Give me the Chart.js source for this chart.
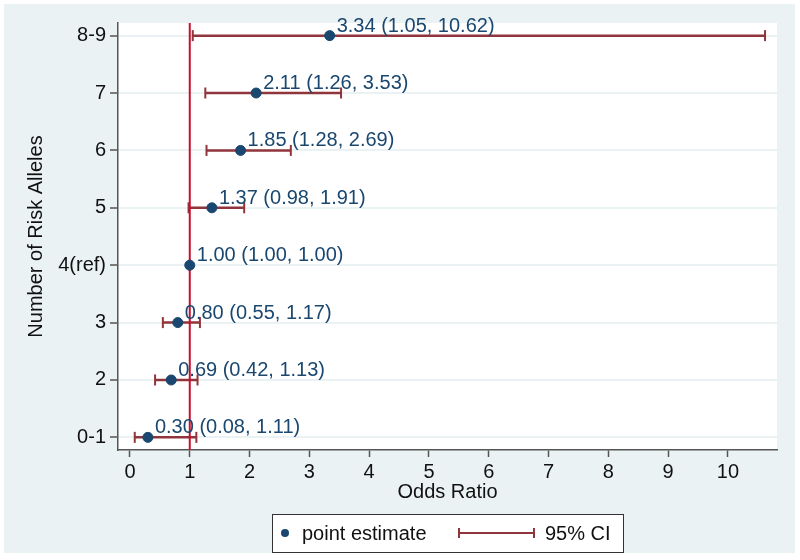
<!DOCTYPE html>
<html>
<head>
<meta charset="utf-8">
<script src="https://cdn.jsdelivr.net/npm/chart.js@4.4.1/dist/chart.umd.min.js"></script>
<style>
  body { margin: 0; background: #fff; }
  #wrap { width: 800px; height: 560px; }
</style>
</head>
<body>
<div id="wrap"><canvas id="grafico" width="800" height="560"></canvas></div>
<script>
// categorias de baixo para cima
const categorias = ["0-1", "2", "3", "4(ref)", "5", "6", "7", "8-9"];
const estimativas = [0.30, 0.69, 0.80, 1.00, 1.37, 1.85, 2.11, 3.34];
const limiteInferior = [0.08, 0.42, 0.55, 1.00, 0.98, 1.28, 1.26, 1.05];
const limiteSuperior = [1.11, 1.13, 1.17, 1.00, 1.91, 2.69, 3.53, 10.62];
const ticksX = [0, 1, 2, 3, 4, 5, 6, 7, 8, 9, 10];
const valorReferencia = 1;

const azul = "#1a476f";
const vinho = "#90353b";
const vermelho = "#c8102e";
const fundo = "#eaf2f3";
const fonte = "'Liberation Sans', Arial, sans-serif";

const yMin = -0.22, yMax = 7.22;

// uma linha por intervalo de confiança, com "tampas" verticais nas pontas
const datasetsIC = categorias.map((c, i) => ({
    label: "IC " + c,
    data: [{ x: limiteInferior[i], y: i }, { x: limiteSuperior[i], y: i }],
    showLine: true,
    borderColor: vinho,
    borderWidth: 2.5,
    pointStyle: "line",
    rotation: 90,
    pointRadius: 5.5,
    pointBorderWidth: 2,
    pointBorderColor: vinho,
    order: 3
}));

const fundoPlugin = {
    id: "fundo",
    beforeDraw(chart) {
        const { ctx, chartArea: a } = chart;
        ctx.save();
        ctx.fillStyle = "#fff";
        ctx.fillRect(0, 0, chart.width, chart.height);
        ctx.fillStyle = fundo;
        ctx.fillRect(4, 4, 791, 549);
        ctx.fillStyle = "#fff";
        ctx.fillRect(a.left, a.top, a.right - a.left, a.bottom - a.top);
        ctx.restore();
    }
};

const rotulosPlugin = {
    id: "rotulos",
    afterDatasetsDraw(chart) {
        const ctx = chart.ctx;
        const meta = chart.getDatasetMeta(0);
        ctx.save();
        ctx.font = "20px " + fonte;
        ctx.fillStyle = azul;
        ctx.textAlign = "left";
        ctx.textBaseline = "alphabetic";
        meta.data.forEach((p, i) => {
            const txt = `${estimativas[i].toFixed(2)} (${limiteInferior[i].toFixed(2)}, ${limiteSuperior[i].toFixed(2)})`;
            ctx.fillText(txt, p.x + 7, p.y - 4);
        });
        ctx.restore();
    }
};

// legenda desenhada à mão (o glifo do IC não existe na legenda padrão)
const legendaPlugin = {
    id: "legenda",
    afterDraw(chart) {
        const ctx = chart.ctx;
        ctx.save();
        ctx.fillStyle = "#fff";
        ctx.fillRect(272, 514, 351, 38);
        ctx.strokeStyle = "#333";
        ctx.lineWidth = 1;
        ctx.strokeRect(272.5, 514.5, 351, 38);

        ctx.fillStyle = azul;
        ctx.beginPath();
        ctx.arc(285, 533, 4, 0, Math.PI * 2);
        ctx.fill();

        ctx.strokeStyle = vinho;
        ctx.lineWidth = 2;
        ctx.beginPath();
        ctx.moveTo(459, 533); ctx.lineTo(534, 533);
        ctx.moveTo(459, 528); ctx.lineTo(459, 538);
        ctx.moveTo(534, 528); ctx.lineTo(534, 538);
        ctx.stroke();

        ctx.fillStyle = "#111";
        ctx.font = "20px " + fonte;
        ctx.textBaseline = "middle";
        ctx.fillText("point estimate", 302, 534);
        ctx.fillText("95% CI", 545, 534);
        ctx.restore();
    }
};

const ctx = document.getElementById("grafico").getContext("2d");
new Chart(ctx, {
    type: "scatter",
    data: {
        datasets: [
            {
                label: "point estimate",
                data: estimativas.map((v, i) => ({ x: v, y: i })),
                backgroundColor: azul,
                borderColor: azul,
                pointRadius: 5,
                order: 1
            },
            {
                label: "ref",
                data: [{ x: valorReferencia, y: yMin }, { x: valorReferencia, y: yMax }],
                showLine: true,
                borderColor: vermelho,
                borderWidth: 2,
                pointRadius: 0,
                order: 2
            },
            ...datasetsIC
        ]
    },
    options: {
        responsive: false,
        animation: false,
        events: [],
        layout: { padding: { top: 23, right: 23, left: 0, bottom: 50 } },
        plugins: {
            legend: { display: false },
            tooltip: { enabled: false }
        },
        scales: {
            x: {
                type: "linear",
                min: -0.2,
                max: 10.82,
                afterBuildTicks: s => { s.ticks = ticksX.map(v => ({ value: v })); },
                afterFit: s => { s.height = 60; },
                grid: { drawOnChartArea: false, drawTicks: true, tickLength: 7, tickColor: "#555", tickWidth: 1.5 },
                border: { color: "#555", width: 1.5 },
                ticks: { color: "#111", font: { size: 20, family: fonte }, padding: 3, maxRotation: 0 },
                title: { display: true, text: "Odds Ratio", color: "#111", font: { size: 20, family: fonte }, padding: { top: 0, bottom: 6 } }
            },
            y: {
                type: "linear",
                min: yMin,
                max: yMax,
                afterBuildTicks: s => { s.ticks = categorias.map((c, i) => ({ value: i })); },
                afterFit: s => { s.width = 118; },
                grid: { color: fundo, lineWidth: 2, drawTicks: true, tickLength: 8, tickColor: "#555", tickWidth: 1.5 },
                border: { color: "#555", width: 1.5 },
                ticks: {
                    color: "#111",
                    font: { size: 20, family: fonte },
                    padding: 4,
                    callback: v => categorias[v]
                },
                title: { display: true, text: "Number of Risk Alleles", color: "#111", font: { size: 20, family: fonte }, padding: { top: 24, bottom: 0 } }
            }
        }
    },
    plugins: [fundoPlugin, rotulosPlugin, legendaPlugin]
});
</script>
</body>
</html>
